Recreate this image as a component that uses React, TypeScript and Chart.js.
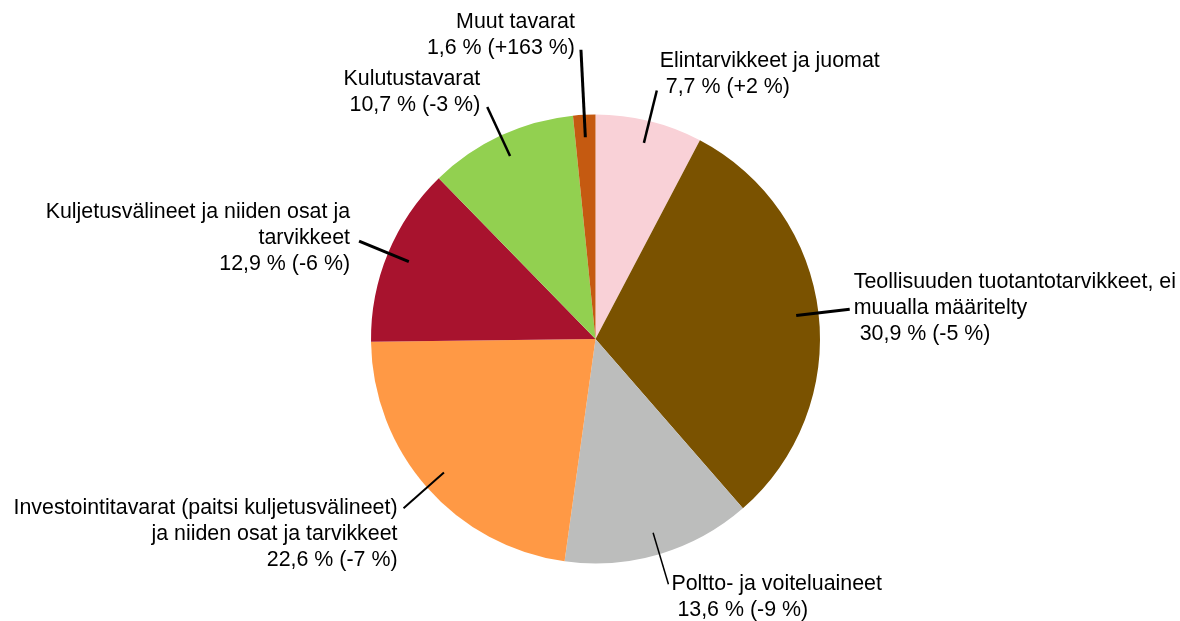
import React, { useEffect, useRef } from "react";
import { Chart, registerables } from "chart.js";

Chart.register(...registerables);

const categories = [
  "Elintarvikkeet ja juomat",
  "Teollisuuden tuotantotarvikkeet, ei muualla määritelty",
  "Poltto- ja voiteluaineet",
  "Investointitavarat (paitsi kuljetusvälineet) ja niiden osat ja tarvikkeet",
  "Kuljetusvälineet ja niiden osat ja tarvikkeet",
  "Kulutustavarat",
  "Muut tavarat",
];
const shares = [7.7, 30.9, 13.6, 22.6, 12.9, 10.7, 1.6];
const changes = ["+2", "-5", "-9", "-7", "-6", "-3", "+163"];
const colors = ["#F9D1D7", "#7A5200", "#BCBDBC", "#FF9945", "#A8132E", "#92D050", "#C55A11"];

// label text lines (name part); value line is built from shares/changes
const nameLines: string[][] = [
  ["Elintarvikkeet ja juomat"],
  ["Teollisuuden tuotantotarvikkeet, ei", "muualla määritelty"],
  ["Poltto- ja voiteluaineet"],
  ["Investointitavarat (paitsi kuljetusvälineet)", "ja niiden osat ja tarvikkeet"],
  ["Kuljetusvälineet ja niiden osat ja", "tarvikkeet"],
  ["Kulutustavarat"],
  ["Muut tavarat"],
];
const valueIndent = [" ", " ", " ", "", "", "", ""];

// label layout: leader line end (fraction of radius), text alignment and offsets
const leaderOuter = [1.14, 1.14, 1.14, 1.14, 1.14, 1.14, 1.29];
const leaderInner = [0.9, 0.9, 0.9, 0.9, 0.9, 0.9, 0.9];
const leaderWidth = [2.5, 3, 1.5, 2, 3, 2.5, 3];
const labelAlign: ("left" | "right")[] = ["left", "left", "left", "right", "right", "right", "right"];
const labelDx = [3, 4, 3, -6, -9, -7, -6];
const labelDy = [-24, -21, 6, 6, -23, -22, -22];

const FONT_SIZE = 21.4;
const LINE_H = 26;

const fmt = (v: number) => v.toFixed(1).replace(".", ",");

const labelPlugin = {
  id: "pieLabels",
  afterDatasetsDraw(chart: any) {
    const ctx = chart.ctx as CanvasRenderingContext2D;
    const meta = chart.getDatasetMeta(0);
    meta.data.forEach((arc: any, i: number) => {
      const { x, y, startAngle, endAngle, outerRadius } = arc.getProps(
        ["x", "y", "startAngle", "endAngle", "outerRadius"],
        true
      );
      const mid = (startAngle + endAngle) / 2;
      const x1 = x + Math.cos(mid) * outerRadius * leaderInner[i];
      const y1 = y + Math.sin(mid) * outerRadius * leaderInner[i];
      const x2 = x + Math.cos(mid) * outerRadius * leaderOuter[i];
      const y2 = y + Math.sin(mid) * outerRadius * leaderOuter[i];
      ctx.save();
      ctx.strokeStyle = "#000";
      ctx.lineWidth = leaderWidth[i];
      ctx.beginPath();
      ctx.moveTo(x1, y1);
      ctx.lineTo(x2, y2);
      ctx.stroke();

      const lines = [
        ...nameLines[i],
        `${valueIndent[i]}${fmt(shares[i])} % (${changes[i]} %)`,
      ];
      ctx.fillStyle = "#000";
      ctx.font = `${FONT_SIZE}px "Liberation Sans", Arial, sans-serif`;
      ctx.textAlign = labelAlign[i];
      ctx.textBaseline = "alphabetic";
      lines.forEach((t, k) => {
        ctx.fillText(t, x2 + labelDx[i], y2 + labelDy[i] + k * LINE_H);
      });
      ctx.restore();
    });
  },
};

export default function App() {
  const ref = useRef<HTMLCanvasElement | null>(null);
  useEffect(() => {
    if (!ref.current) return;
    const chart = new Chart(ref.current, {
      type: "pie",
      data: {
        labels: categories,
        datasets: [
          {
            data: shares,
            backgroundColor: colors,
            borderWidth: 0,
          },
        ],
      },
      options: {
        responsive: false,
        animation: false,
        devicePixelRatio: 1,
        layout: { padding: { left: 371, right: 360, top: 114.5, bottom: 57.5 } },
        plugins: {
          legend: { display: false },
          tooltip: { enabled: false },
        },
      },
      plugins: [labelPlugin],
    });
    return () => chart.destroy();
  }, []);
  return (
    <div style={{ position: "fixed", left: 0, top: 0, width: 1180, height: 621, background: "#fff" }}>
      <canvas ref={ref} width={1180} height={621} />
    </div>
  );
}
